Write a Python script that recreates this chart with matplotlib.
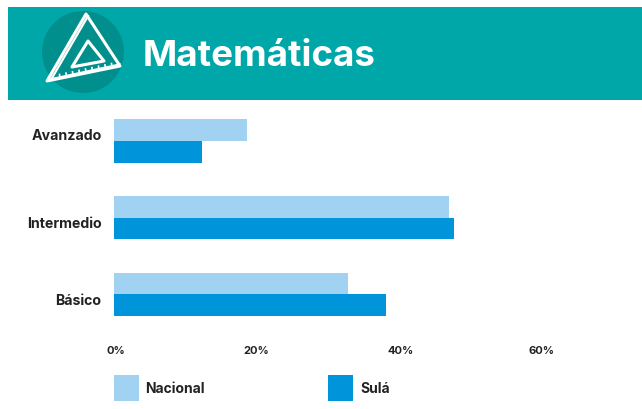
import numpy as np
import matplotlib
matplotlib.use("Agg")
import matplotlib.pyplot as plt
from matplotlib.patches import Rectangle, Circle, Polygon
from matplotlib.transforms import ScaledTranslation

categories = ["Básico", "Intermedio", "Avanzado"]
nacional = [33.1, 47.4, 18.8]
sula = [38.5, 48.1, 12.5]
xticks = [0, 20, 40, 60]
xticklabels = ["0%", "20%", "40%", "60%"]
series_names = ["Nacional", "Sulá"]
title = "Matemáticas"

TEAL = "#00A7A8"
DARK_TEAL = "#008F8C"
LIGHT = "#A2D2F2"
BLUE = "#0095DB"
TEXT = "#222222"
W, H = 642, 409

plt.rcParams["font.family"] = ["Inter", "DejaVu Sans"]
fig = plt.figure(figsize=(W / 100, H / 100), dpi=100)

# background layer in pixels, banner and legend
bg = fig.add_axes([0, 0, 1, 1])
bg.set_xlim(0, W)
bg.set_ylim(H, 0)
bg.axis("off")
bg.add_patch(Rectangle((8, 7), 634, 93, color=TEAL, lw=0))
bg.add_patch(Circle((83, 52), 41, color=DARK_TEAL, lw=0))
bg.add_patch(Polygon([(47, 81), (86, 14), (120, 66)], fill=False, ec="white", lw=2.2, joinstyle="round"))
bg.plot([52, 88], [78, 16], color="white", lw=1.6)
bg.plot([50, 120], [79, 64], color="white", lw=1)
bg.add_patch(Polygon([(72, 67), (88, 41), (104, 61)], fill=False, ec="white", lw=2.2, joinstyle="round"))
for tx, ty in zip(np.arange(60, 118, 6.5), np.linspace(78.5, 67.5, 9)):
    bg.plot([tx, tx - 0.5], [ty, ty - 4], color="white", lw=1.2)
bg.text(143, 57, title, color="white", fontsize=26.5, fontweight="bold", ha="left", va="center")

bg.add_patch(Rectangle((114, 375), 25, 26, color=LIGHT, lw=0))
bg.add_patch(Rectangle((328, 375), 25, 26, color=BLUE, lw=0))
bg.text(145, 389, series_names[0], color=TEXT, fontsize=10, fontweight="bold", ha="left", va="center")
bg.text(360, 389, series_names[1], color=TEXT, fontsize=10, fontweight="bold", ha="left", va="center")

# chart
ax = fig.add_axes([114 / W, 1 - 340 / H, (W - 114) / W, 240 / H])
ax.patch.set_alpha(0)
y = np.arange(len(categories))
bar_h = 0.282
ax.barh(y + bar_h / 2, nacional, height=bar_h, color=LIGHT)
ax.barh(y - bar_h / 2, sula, height=bar_h, color=BLUE)
ax.set_xlim(0, 528 / 7.07)
ax.set_ylim(-0.6, 2.536)
ax.set_yticks(y)
ax.set_yticklabels(categories, fontsize=10.2, fontweight="bold", color=TEXT)
ax.set_xticks(xticks)
ax.set_xticklabels(xticklabels, fontsize=8, fontweight="bold", color=TEXT)
ax.tick_params(axis="both", length=0)
ax.tick_params(axis="y", pad=9)
ax.tick_params(axis="x", pad=4)
for s in ax.spines.values():
    s.set_visible(False)

# labels sit off the group centres in the original
for lab, dy in zip(ax.get_yticklabels(), [-5, -5, 7]):
    lab.set_transform(lab.get_transform() + ScaledTranslation(0, dy / 100, fig.dpi_scale_trans))
for lab, dx in zip(ax.get_xticklabels(), [2, 1, 4, 3]):
    lab.set_transform(lab.get_transform() + ScaledTranslation(dx / 100, 0, fig.dpi_scale_trans))

plt.savefig("out.png", dpi=100)
